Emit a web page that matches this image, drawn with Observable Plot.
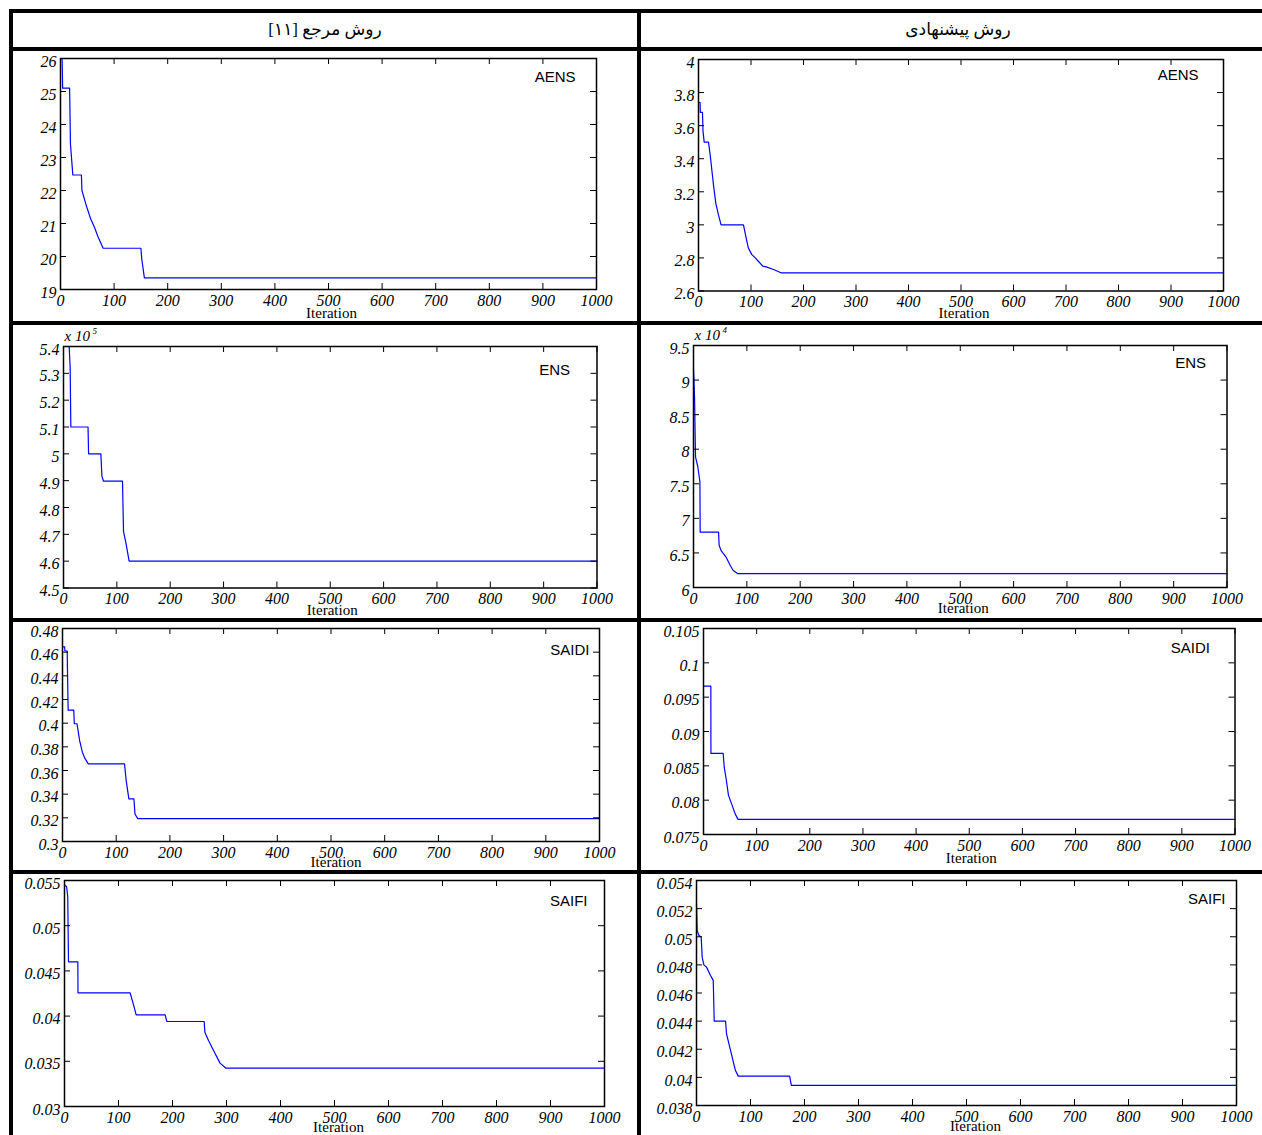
<!DOCTYPE html>
<html>
<head>
<meta charset="utf-8">
<script src="https://cdn.jsdelivr.net/npm/d3@7"></script>
<script src="https://cdn.jsdelivr.net/npm/@observablehq/plot@0.6"></script>
<style>
  body { margin: 0; background: #fff; }
  #page { position: relative; width: 1262px; height: 1135px; overflow: hidden; background: #fff; }
  .bar { position: absolute; background: #000; z-index: 5; }
  .hdr { position: absolute; top: 12px; height: 34px; display: flex; align-items: center; justify-content: center;
         font-family: "Liberation Serif", "DejaVu Sans", serif; font-size: 17px; direction: rtl; color: #000; }
  .panel { position: absolute; z-index: 2; }
</style>
</head>
<body>
<div id="page">
  <div class="bar" style="left:9px;top:9px;width:1253px;height:4px"></div>
  <div class="bar" style="left:9px;top:47px;width:1253px;height:4px"></div>
  <div class="bar" style="left:9px;top:321px;width:1253px;height:4px"></div>
  <div class="bar" style="left:9px;top:618px;width:1253px;height:4px"></div>
  <div class="bar" style="left:9px;top:870px;width:1253px;height:4px"></div>
  <div class="bar" style="left:9px;top:9px;width:4px;height:1126px"></div>
  <div class="bar" style="left:637px;top:9px;width:4px;height:1126px"></div>
  <div class="hdr" style="left:13px;width:624px">روش مرجع [۱۱]</div>
  <div class="hdr" style="left:641px;width:634px">روش پیشنهادی</div>
</div>
<script>
// ---------- shared ticks ----------
const iterTicks = [0, 100, 200, 300, 400, 500, 600, 700, 800, 900, 1000];

// ---------- AENS (reference method [11]) ----------
const aensRefIter = [0, 3, 4, 17, 18.6, 23, 39, 40, 48, 56, 63, 70, 79.5, 150, 151.5, 156.5, 1000];
const aensRefVal  = [26, 26, 25.1, 25.1, 23.4, 22.47, 22.47, 22.0, 21.55, 21.15, 20.9, 20.6, 20.25, 20.25, 19.94, 19.35, 19.35];
const aensRefTicks = [19, 20, 21, 22, 23, 24, 25, 26];

// ---------- AENS (proposed) ----------
const aensPropIter = [0, 3, 3.5, 7.6, 8.5, 10.8, 19, 22, 28.6, 33, 38, 43, 85.7, 90.8, 95, 101.6, 108, 114, 122.5, 129, 143, 157, 1000];
const aensPropVal  = [3.74, 3.74, 3.68, 3.68, 3.57, 3.50, 3.50, 3.43, 3.24, 3.13, 3.06, 3.0, 3.0, 2.92, 2.86, 2.82, 2.80, 2.78, 2.75, 2.746, 2.73, 2.71, 2.71];
const aensPropTicks = [2.6, 2.8, 3, 3.2, 3.4, 3.6, 3.8, 4];

// ---------- ENS (reference, x 10^5) ----------
const ensRefIter = [0, 10.6, 12.5, 13.75, 46, 47, 70, 72, 75, 110.6, 112.5, 117, 123, 1000];
const ensRefVal  = [5.4, 5.4, 5.32, 5.10, 5.10, 5.0, 5.0, 4.917, 4.898, 4.898, 4.71, 4.668, 4.60, 4.60];
const ensRefTicks = [4.5, 4.6, 4.7, 4.8, 4.9, 5, 5.1, 5.2, 5.3, 5.4];

// ---------- ENS (proposed, x 10^4) ----------
const ensPropIter = [0, 2, 3.75, 8, 12, 12.5, 47, 48, 52, 56, 61, 67.5, 74, 83, 1000];
const ensPropVal  = [9.16, 8.74, 7.89, 7.75, 7.53, 6.80, 6.80, 6.61, 6.53, 6.49, 6.44, 6.34, 6.25, 6.20, 6.20];
const ensPropTicks = [6, 6.5, 7, 7.5, 8, 8.5, 9, 9.5];

// ---------- SAIDI (reference) ----------
const saidiRefIter = [0, 4, 4.5, 8.7, 10.5, 21, 22, 27, 32, 37, 42, 48, 115.5, 118.6, 123.6, 133, 135, 140, 1000];
const saidiRefVal  = [0.4645, 0.4645, 0.461, 0.461, 0.411, 0.411, 0.3995, 0.3995, 0.385, 0.3755, 0.37, 0.3656, 0.3656, 0.3515, 0.336, 0.336, 0.3232, 0.3193, 0.3193];
const saidiRefTicks = [0.3, 0.32, 0.34, 0.36, 0.38, 0.4, 0.42, 0.44, 0.46, 0.48];

// ---------- SAIDI (proposed) ----------
const saidiPropIter = [0, 13.8, 14, 37, 39, 43, 47, 52.7, 59.6, 65, 1000];
const saidiPropVal  = [0.0966, 0.0966, 0.0868, 0.0868, 0.0848, 0.0829, 0.0807, 0.0795, 0.0780, 0.0772, 0.0772];
const saidiPropTicks = [0.075, 0.08, 0.085, 0.09, 0.095, 0.1, 0.105];

// ---------- SAIFI (reference) ----------
const saifiRefIter = [0, 4, 6, 7.4, 24.7, 25, 121.6, 124.7, 129, 132.7, 186.4, 189.5, 258.6, 260, 266.7, 276, 288, 299, 1000];
const saifiRefVal  = [0.0545, 0.0543, 0.0532, 0.0460, 0.0460, 0.04257, 0.04257, 0.0419, 0.0410, 0.04014, 0.04014, 0.0394, 0.0394, 0.03822, 0.0373, 0.0362, 0.0348, 0.03424, 0.03424];
const saifiRefTicks = [0.03, 0.035, 0.04, 0.045, 0.05, 0.055];

// ---------- SAIFI (proposed) ----------
const saifiPropIter = [0, 1.2, 4.3, 8.7, 10.5, 13.6, 18.5, 26, 31, 32.8, 53.8, 55.6, 60, 66, 72, 77.3, 172.5, 175.6, 1000];
const saifiPropVal  = [0.05234, 0.05045, 0.0501, 0.04997, 0.04855, 0.0480, 0.04784, 0.04725, 0.0469, 0.0440, 0.0440, 0.0431, 0.0424, 0.04144, 0.0405, 0.04009, 0.04009, 0.03943, 0.03943];
const saifiPropTicks = [0.038, 0.04, 0.042, 0.044, 0.046, 0.048, 0.05, 0.052, 0.054];

// ---------- layout (frame boxes in page pixels: left, top, right, bottom; label offsets) ----------
const panels = [
  {name: "AENS",  xs: aensRefIter,   ys: aensRefVal,   yt: aensRefTicks,   box: [60, 58, 596, 289],       ndx: -21, ndy: 19, idx: 3, idy: 24},
  {name: "AENS",  xs: aensPropIter,  ys: aensPropVal,  yt: aensPropTicks,  box: [698, 58.5, 1223, 290],   ndx: -25, ndy: 16, idx: 3, idy: 22},
  {name: "ENS",   xs: ensRefIter,    ys: ensRefVal,    yt: ensRefTicks,    box: [62.5, 345.5, 596, 587],  ndx: -27, ndy: 24, idx: 2, idy: 22, expo: "5"},
  {name: "ENS",   xs: ensPropIter,   ys: ensPropVal,   yt: ensPropTicks,   box: [692.5, 345, 1226, 587],  ndx: -21, ndy: 18, idx: 3, idy: 21, expo: "4"},
  {name: "SAIDI", xs: saidiRefIter,  ys: saidiRefVal,  yt: saidiRefTicks,  box: [62, 628, 599, 841],      ndx: -10, ndy: 22, idx: 5, idy: 21},
  {name: "SAIDI", xs: saidiPropIter, ys: saidiPropVal, yt: saidiPropTicks, box: [702.5, 628, 1234, 834],  ndx: -25, ndy: 20, idx: 2, idy: 24},
  {name: "SAIFI", xs: saifiRefIter,  ys: saifiRefVal,  yt: saifiRefTicks,  box: [64, 880, 604, 1106],     ndx: -17, ndy: 21, idx: 4, idy: 21},
  {name: "SAIFI", xs: saifiPropIter, ys: saifiPropVal, yt: saifiPropTicks, box: [696, 880, 1236, 1105],   ndx: -11, ndy: 19, idx: 9, idy: 21}
];

const page = document.getElementById("page");
const mL = 62, mT = 26, mR = 30, mB = 36, tk = 6;

for (const p of panels) {
  const [L, T, R, B] = p.box;
  const W = R - L, H = B - T;
  const data = p.xs.map((x, i) => ({iter: x, val: p.ys[i]}));
  const marks = [
    Plot.line(data, {x: "iter", y: "val", stroke: "#0000ff", strokeWidth: 1.2}),
    Plot.tickX(iterTicks, {x: d => d, insetTop: H - tk, stroke: "#000"}),
    Plot.tickX(iterTicks, {x: d => d, insetBottom: H - tk, stroke: "#000"}),
    Plot.tickY(p.yt, {y: d => d, insetLeft: W - tk, stroke: "#000"}),
    Plot.tickY(p.yt, {y: d => d, insetRight: W - tk, stroke: "#000"}),
    Plot.frame({stroke: "#000", strokeWidth: 1.5}),
    Plot.axisX({ticks: iterTicks, tickSize: 0, tickPadding: 5, label: null, tickFormat: d => String(d)}),
    Plot.axisY({ticks: p.yt, tickSize: 0, tickPadding: 4, dy: 3, label: null, tickFormat: d => String(d)}),
    Plot.text([p.name], {text: d => d, frameAnchor: "top-right", dx: p.ndx, dy: p.ndy, textAnchor: "end",
                         lineAnchor: "middle", fontFamily: "Liberation Sans, Arial, sans-serif", fontStyle: "normal", fontSize: 15}),
    Plot.text(["Iteration"], {text: d => d, frameAnchor: "bottom", dx: p.idx, dy: p.idy, lineAnchor: "middle", fontStyle: "normal", fontSize: 15})
  ];
  if (p.expo) {
    marks.push(Plot.text(["x 10"], {text: d => d, frameAnchor: "top-left", dx: 1, dy: -10, textAnchor: "start", lineAnchor: "middle", fontSize: 15}));
    marks.push(Plot.text([p.expo], {text: d => d, frameAnchor: "top-left", dx: 29, dy: -15, textAnchor: "start", lineAnchor: "middle", fontSize: 9}));
  }
  const chart = Plot.plot({
    width: W + mL + mR,
    height: H + mT + mB,
    marginLeft: mL, marginTop: mT, marginRight: mR, marginBottom: mB,
    x: {domain: [0, 1000], label: null},
    y: {domain: [p.yt[0], p.yt[p.yt.length - 1]], label: null},
    style: {background: "transparent", fontFamily: "Liberation Serif, Times New Roman, serif", fontStyle: "italic",
            fontSize: "16px", color: "#000", overflow: "visible"},
    marks
  });
  chart.classList.add("panel");
  chart.style.left = (L - mL) + "px";
  chart.style.top = (T - mT) + "px";
  page.appendChild(chart);
}
</script>
</body>
</html>
